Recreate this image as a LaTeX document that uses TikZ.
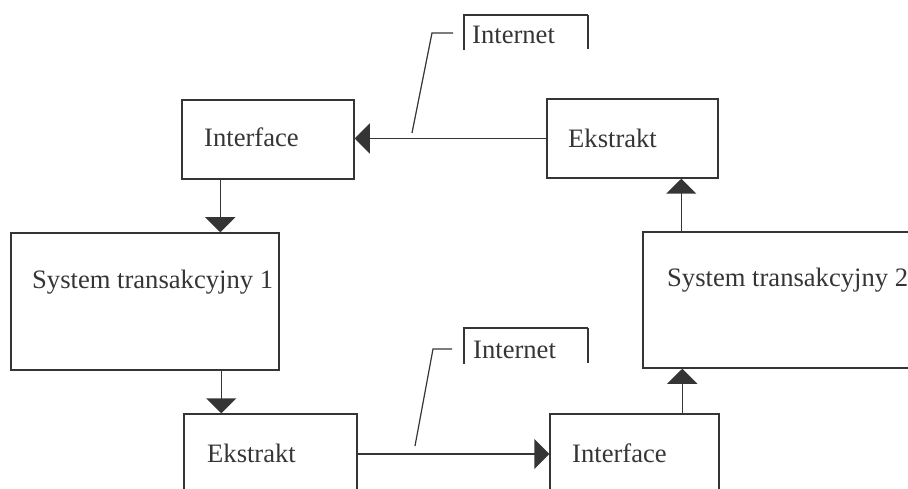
\documentclass[tikz,border=0pt]{standalone}
\usepackage{fontspec}
\setmainfont{Liberation Serif}
\usetikzlibrary{arrows.meta}
\definecolor{ink}{HTML}{353535}
\tikzset{
  box/.style={draw=ink, line width=1.5pt, rectangle, inner sep=0pt},
  lbl/.style={text=ink, inner sep=0pt, anchor=base west, font=\fontsize{26.6}{30}\selectfont},
  arr/.style={draw=ink, line width=1.5pt, -{Triangle[length=15pt,width=30pt]}},
  lead/.style={draw=ink, line width=1.2pt},
  brk/.style={draw=ink, line width=1.3pt},
  brkthick/.style={draw=ink, line width=2.4pt}
}
\begin{document}
\begin{tikzpicture}[x=1pt,y=-1pt]
\useasboundingbox (0,0) rectangle (908,489);
\clip (0,0) rectangle (908,489);
% boxes
\node[box, minimum width=172pt, minimum height=79pt] (if1) at (268,139.5) {};
\node[box, minimum width=171pt, minimum height=79pt] (ek1) at (632.5,138.5) {};
\node[box, minimum width=268pt, minimum height=137pt] (s1) at (145,301.5) {};
\node[box, minimum width=292pt, minimum height=136pt] (s2) at (789,300) {};
\node[box, minimum width=173pt, minimum height=96pt] (ek2) at (270.5,462) {};
\node[box, minimum width=169pt, minimum height=96pt] (if2) at (634.5,462) {};
% labels
\node[lbl] (tif1) at (204,147) {Interface};
\node[lbl] (tek1) at (568,148) {Ekstrakt};
\node[lbl] (ts1) at (32,288) {System transakcyjny 1};
\node[lbl] (ts2) at (667,287) {System transakcyjny 2};
\node[lbl] (tek2) at (207,462) {Ekstrakt};
\node[lbl] (tif2) at (572,462) {Interface};
\node[lbl] (net1) at (472,44) {Internet};
\node[lbl] (net2) at (473,358) {Internet};
% connectors
\draw[arr] ([xshift=39pt]if1.south west) -- ([xshift=39pt]if1.south west |- s1.north);
\draw[arr] ([xshift=38pt]ek2.north west |- s1.south) -- ([xshift=38pt]ek2.north west);
\draw[arr] (ek1.west) -- (ek1.west -| if1.east);
\draw[arr] ([yshift=8pt]ek2.east) -- ([yshift=8pt]ek2.east -| if2.west);
\draw[arr] ([xshift=133pt]if2.north west) -- ([xshift=133pt]if2.north west |- s2.south);
\draw[arr] ([xshift=135pt]ek1.south west |- s2.north) -- ([xshift=135pt]ek1.south west);
% callouts
\coordinate (c1a) at (412,133);
\coordinate (c1b) at (432,33);
\coordinate (c1c) at (453,33);
\draw[lead] (c1a) -- (c1b) -- (c1c);
\coordinate (b1a) at (464,50);
\coordinate (b1b) at (464,15);
\coordinate (b1c) at (588,15);
\coordinate (b1d) at (588,49);
\draw[brk] (b1a) -- (b1b) -- (b1c);
\draw[brkthick] (b1c) -- (b1d);
\coordinate (c2a) at (415,446);
\coordinate (c2b) at (433,349);
\coordinate (c2c) at (452,349);
\draw[lead] (c2a) -- (c2b) -- (c2c);
\coordinate (b2a) at (464,364);
\coordinate (b2b) at (464,328);
\coordinate (b2c) at (588,328);
\coordinate (b2d) at (588,363);
\draw[brk] (b2a) -- (b2b) -- (b2c);
\draw[brkthick] (b2c) -- (b2d);
\end{tikzpicture}
\end{document}
